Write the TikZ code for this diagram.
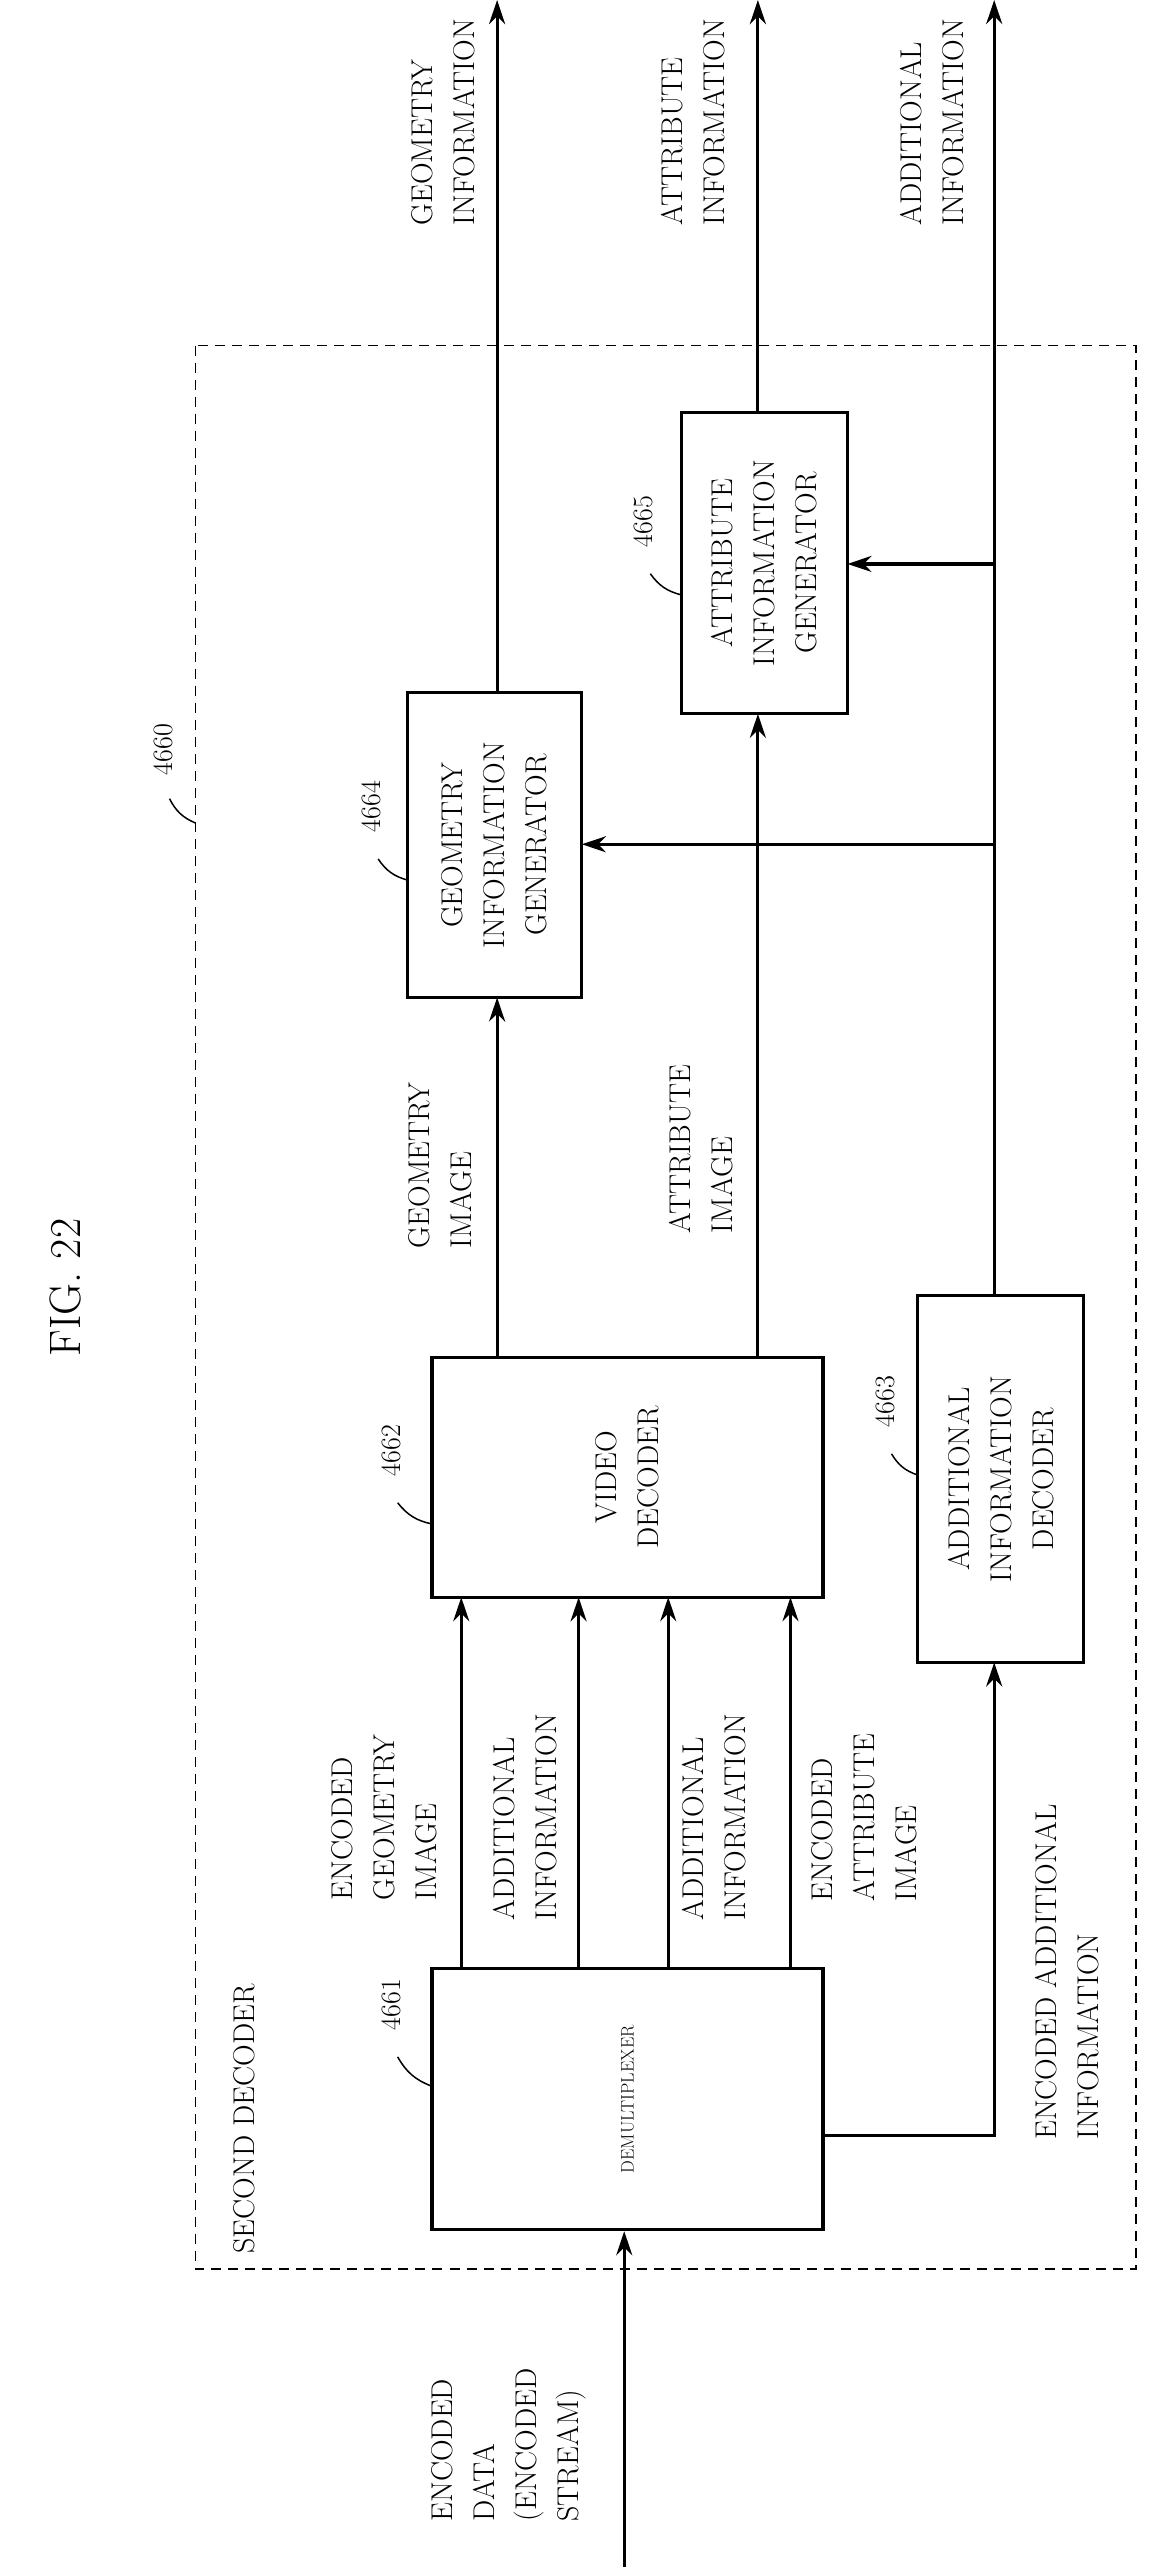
\documentclass[tikz,border=0pt]{standalone}
\usetikzlibrary{arrows.meta}
\begin{document}
\begin{tikzpicture}[x=1.629pt,y=-1.629pt,
 box/.style={draw,line width=3.2pt},
 ar/.style={line width=3.2pt,-{Stealth[length=24pt,width=16pt]}},
 t/.style={rotate=90,align=left,font=\fontsize{30}{42}\selectfont,inner sep=0pt},
 tc/.style={rotate=90,align=center,font=\fontsize{30}{42}\selectfont,inner sep=0pt},
 num/.style={rotate=90,font=\fontsize{28}{34}\selectfont,inner sep=2pt},
 lead/.style={line width=1.5pt}]
\useasboundingbox (0,0) rectangle (712,1575);
\node[rotate=90,font=\fontsize{44}{50}\selectfont] (fig) at (40,790) {FIG. 22};
\draw[dash pattern=on 10pt off 7pt,line width=1.5pt] (120,212) rectangle (697,1392);
\node[box,minimum width=240*1.629pt,minimum height=160*1.629pt] (dm) at (385,1288) {};
\node[rotate=90,font=\fontsize{18}{20}\selectfont] at (385,1288) {DEMULTIPLEXER};
\node[box,minimum width=240*1.629pt,minimum height=147*1.629pt] (vd) at (385,906.5) {};
\node[tc] at (385,906.5) {VIDEO\\DECODER};
\node[box,minimum width=102*1.629pt,minimum height=225*1.629pt] (ad) at (614,907.5) {};
\node[tc] at (614,907.5) {ADDITIONAL\\INFORMATION\\DECODER};
\node[box,minimum width=107*1.629pt,minimum height=187*1.629pt] (gg) at (303.5,518.5) {};
\node[tc] at (303.5,518.5) {GEOMETRY\\INFORMATION\\GENERATOR};
\node[box,minimum width=102*1.629pt,minimum height=185*1.629pt] (ag) at (469,345.5) {};
\node[tc] at (469,345.5) {ATTRIBUTE\\INFORMATION\\GENERATOR};
\coordinate (in) at (383,1575);
\draw[ar] (in) -- (dm.south -| in);
\foreach \x in {283,355,410,485}{\draw[ar] (\x,1208) -- (\x,980);}
\draw[ar] (505,1310) -- (610,1310) -- (610,1020);
\draw[ar] (305,833) -- (305,612);
\draw[ar] (465,833) -- (465,438);
\coordinate (o1) at (305,0);\coordinate (o2) at (465,0);\coordinate (o3) at (610,0);
\draw[ar] (305,425) -- (o1);
\draw[ar] (465,253) -- (o2);
\draw[ar] (610,795) -- (o3);
\draw[ar] (610,518) -- (357,518);
\draw[ar] (610,346) -- (520,346);
\node[t] at (272,75) {GEOMETRY\\INFORMATION};
\node[t] at (425,75) {ATTRIBUTE\\INFORMATION};
\node[t] at (572,75) {ADDITIONAL\\INFORMATION};
\node[t] at (270,715) {GEOMETRY\\IMAGE};
\node[t] at (430,705) {ATTRIBUTE\\IMAGE};
\node[t] at (236,1115) {ENCODED\\GEOMETRY\\IMAGE};
\node[t] at (322,1115) {ADDITIONAL\\INFORMATION};
\node[t] at (438,1115) {ADDITIONAL\\INFORMATION};
\node[t] at (530,1115) {ENCODED\\ATTRIBUTE\\IMAGE};
\node[t] at (655,1210) {ENCODED ADDITIONAL\\INFORMATION};
\node[t] at (150,1300) {SECOND DECODER};
\node[t] at (312,1500) {ENCODED\\DATA\\(ENCODED\\STREAM)};
\node[num] (n4660) at (100,460) {4660};
\draw[lead] (104,490) to[bend right=20] (120,505);
\node[num] (n4661) at (240,1230) {4661};
\draw[lead] (244,1262) to[bend right=20] (265,1280);
\node[num] (n4662) at (240,890) {4662};
\draw[lead] (244,922) to[bend right=20] (265,935);
\node[num] (n4663) at (543,860) {4663};
\draw[lead] (547,892) to[bend right=20] (563,905);
\node[num] (n4664) at (228,495) {4664};
\draw[lead] (232,527) to[bend right=20] (250,540);
\node[num] (n4665) at (395,320) {4665};
\draw[lead] (399,352) to[bend right=20] (418,365);
\end{tikzpicture}
\end{document}
